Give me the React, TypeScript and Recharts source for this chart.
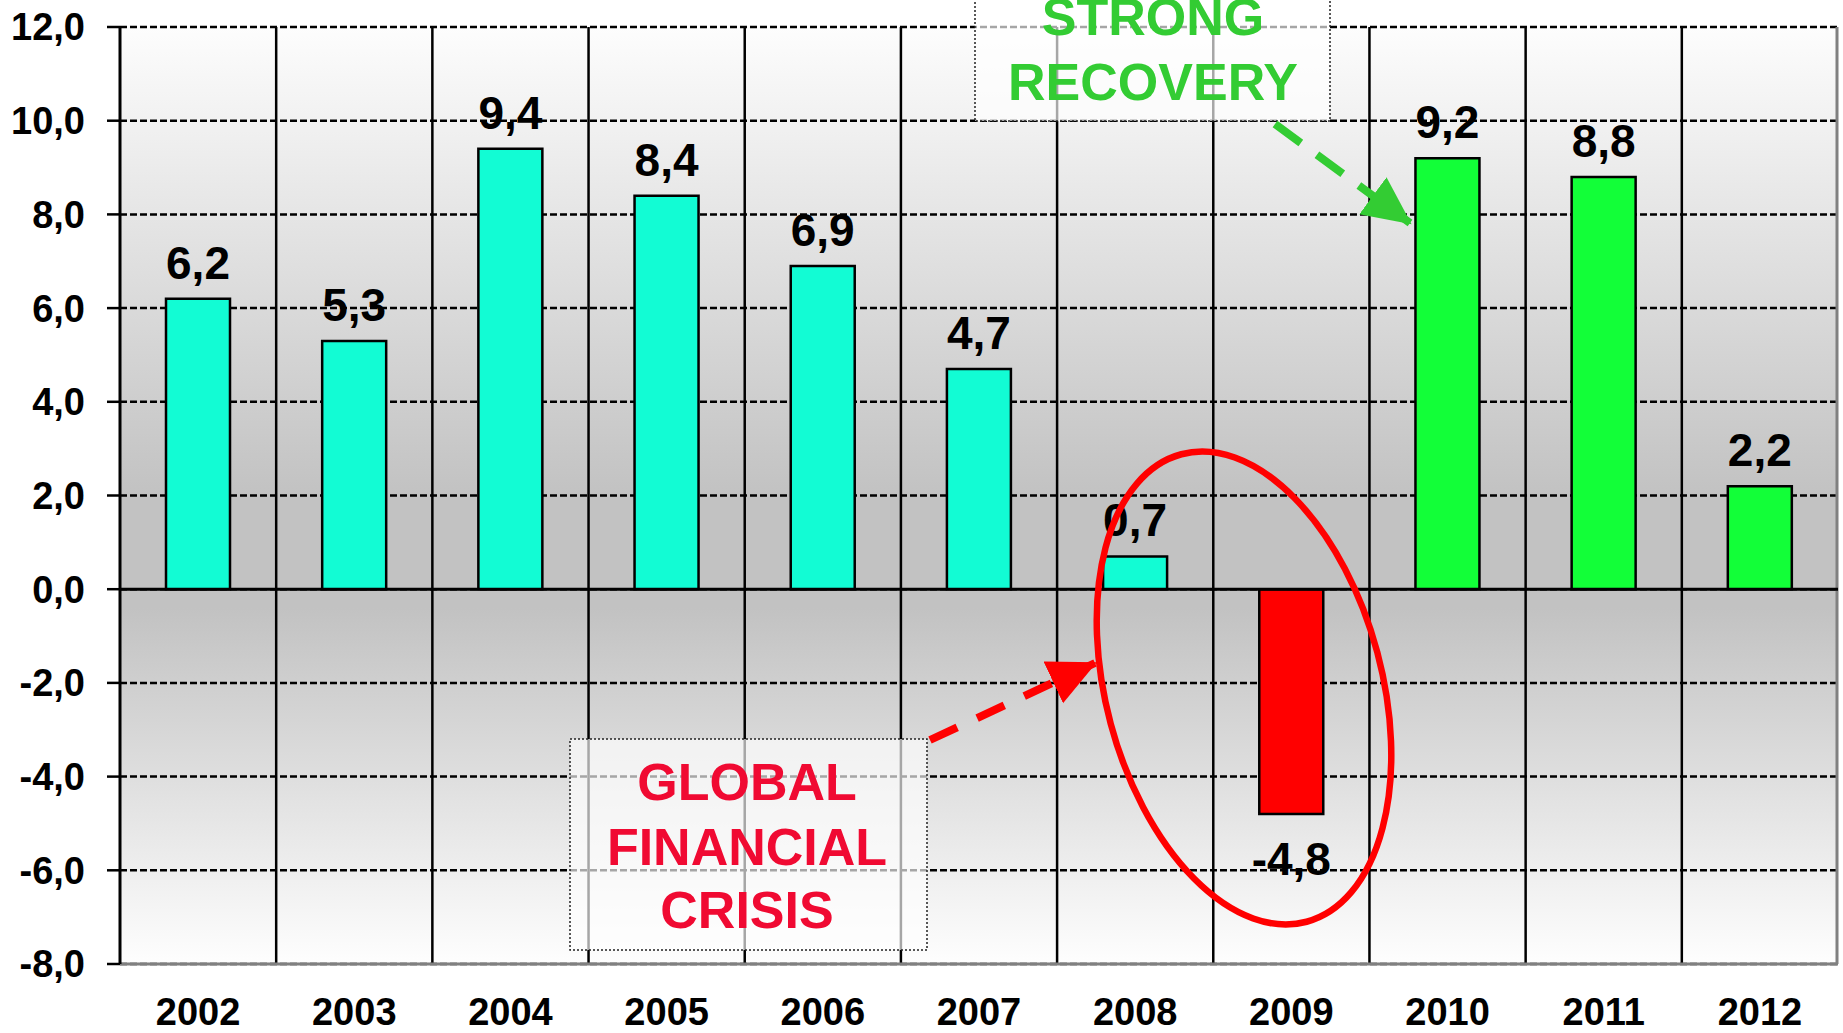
import {
  BarChart,
  Bar,
  XAxis,
  YAxis,
  CartesianGrid,
  ReferenceLine,
  Cell,
  LabelList,
} from 'recharts';

const years = ['2002', '2003', '2004', '2005', '2006', '2007', '2008', '2009', '2010', '2011', '2012'];
const growth = [6.2, 5.3, 9.4, 8.4, 6.9, 4.7, 0.7, -4.8, 9.2, 8.8, 2.2];
const yTicks = [-8, -6, -4, -2, 0, 2, 4, 6, 8, 10, 12];
const recoveryStart = '2010';

const data = years.map((year, i) => ({ year, value: growth[i] }));

const FONT = "'Liberation Sans', Arial, sans-serif";
const CYAN = '#12FCD4';
const GREEN = '#12FF38';
const RED = '#FF0000';
const CRISIS_TEXT = '#F00A32';
const RECOVERY_TEXT = '#33CC33';

const fmt = (v: number) => v.toFixed(1).replace('.', ',');

const barColor = (year: string, value: number) => {
  if (value < 0) return RED;
  if (year >= recoveryStart) return GREEN;
  return CYAN;
};

const ValueLabel = (props: any) => {
  const { x, y, width, height, value } = props;
  const top = Math.min(Number(y), Number(y) + Number(height));
  const bottom = Math.max(Number(y), Number(y) + Number(height));
  const cx = Number(x) + Number(width) / 2;
  const neg = Number(value) < 0;
  return (
    <text
      x={cx}
      y={neg ? bottom + 61 : top - 20}
      textAnchor="middle"
      fontFamily={FONT}
      fontWeight="bold"
      fontSize={46}
      fill="#000"
    >
      {fmt(Number(value))}
    </text>
  );
};

// grid lines sit between categories, not on the ticks
const boundaries = (props: any) => {
  const left = props?.offset?.left ?? 120;
  const w = props?.offset?.width ?? 1718;
  const step = w / years.length;
  return years.slice(1).map((_, i) => left + step * (i + 1));
};

const rightEdge = (props: any) => {
  const left = props?.offset?.left ?? 120;
  const w = props?.offset?.width ?? 1718;
  return [left + w - 1];
};

function Annotations() {
  const textStyle = { fontFamily: FONT, fontWeight: 'bold' as const, fontSize: 52 };
  return (
    <svg
      width={1843}
      height={1033}
      style={{ position: 'absolute', left: 0, top: 0, pointerEvents: 'none' }}
    >
      <defs>
        <marker id="arrGreen" markerUnits="userSpaceOnUse" markerWidth="52" markerHeight="52" refX="46" refY="23" orient="auto">
          <path d="M0,0 L48,23 L0,46 z" fill={RECOVERY_TEXT} />
        </marker>
        <marker id="arrRed" markerUnits="userSpaceOnUse" markerWidth="52" markerHeight="52" refX="46" refY="23" orient="auto">
          <path d="M0,0 L48,23 L0,46 z" fill={RED} />
        </marker>
      </defs>

      {/* strong recovery */}
      <rect x={975} y={-40} width={355} height={161} fill="#fff" fillOpacity={0.65} stroke="#222" strokeWidth={1.5} strokeDasharray="2 2" />
      <text x={1153} y={35} textAnchor="middle" fill={RECOVERY_TEXT} {...textStyle}>STRONG</text>
      <text x={1153} y={100} textAnchor="middle" fill={RECOVERY_TEXT} {...textStyle}>RECOVERY</text>
      <line x1={1275} y1={124} x2={1410} y2={223} stroke={RECOVERY_TEXT} strokeWidth={8} strokeDasharray="32 20" markerEnd="url(#arrGreen)" />

      {/* global financial crisis */}
      <rect x={570} y={739} width={357} height={211} fill="#fff" fillOpacity={0.65} stroke="#222" strokeWidth={1.5} strokeDasharray="2 2" />
      <text x={747} y={800} textAnchor="middle" fill={CRISIS_TEXT} {...textStyle}>GLOBAL</text>
      <text x={747} y={865} textAnchor="middle" fill={CRISIS_TEXT} {...textStyle}>FINANCIAL</text>
      <text x={747} y={928} textAnchor="middle" fill={CRISIS_TEXT} {...textStyle}>CRISIS</text>
      <line x1={930} y1={740} x2={1095} y2={663} stroke={RED} strokeWidth={8} strokeDasharray="30 22" markerEnd="url(#arrRed)" />

      <ellipse cx={1244} cy={688} rx={138} ry={242} transform="rotate(-15 1244 688)" fill="none" stroke={RED} strokeWidth={6.5} />
    </svg>
  );
}

export default function App() {
  return (
    <div style={{ position: 'absolute', left: 0, top: 0, width: 1843, height: 1033, background: '#fff', overflow: 'hidden' }}>
      <BarChart width={1843} height={1033} data={data} margin={{ top: 27, right: 5, left: 0, bottom: 0 }}>
        <defs>
          <linearGradient id="bgGrad" x1="0" y1="0" x2="0" y2="1">
            <stop offset="0" stopColor="#fdfdfd" />
            <stop offset="0.5" stopColor="#c2c2c2" />
            <stop offset="0.62" stopColor="#c2c2c2" />
            <stop offset="1" stopColor="#fefefe" />
          </linearGradient>
        </defs>
        <CartesianGrid
          vertical={false}
          stroke="#000"
          strokeWidth={2.5}
          strokeDasharray="7 3"
          fill="url(#bgGrad)"
          fillOpacity={1}
        />
        <CartesianGrid horizontal={false} stroke="#000" strokeWidth={2.5} verticalCoordinatesGenerator={boundaries} />
        <CartesianGrid horizontal={false} stroke="#808080" strokeWidth={3} verticalCoordinatesGenerator={rightEdge} />
        <XAxis
          dataKey="year"
          height={69}
          axisLine={{ stroke: '#808080', strokeWidth: 3 }}
          tickLine={false}
          tickSize={0}
          tickMargin={34}
          tick={{ fontSize: 38, fontWeight: 'bold', fill: '#000', fontFamily: FONT }}
        />
        <YAxis
          width={120}
          domain={[-8, 12]}
          ticks={yTicks}
          interval={0}
          tickFormatter={fmt}
          axisLine={{ stroke: '#000', strokeWidth: 3 }}
          tickLine={{ stroke: '#000', strokeWidth: 2.5 }}
          tickSize={13}
          tickMargin={22}
          tick={{ fontSize: 38, fontWeight: 'bold', fill: '#000', fontFamily: FONT }}
        />
        <ReferenceLine y={0} stroke="#000" strokeWidth={3} />
        <Bar dataKey="value" barSize={64} stroke="#000" strokeWidth={2.5} isAnimationActive={false}>
          {data.map(d => (
            <Cell key={d.year} fill={barColor(d.year, d.value)} />
          ))}
          <LabelList dataKey="value" content={ValueLabel} />
        </Bar>
      </BarChart>
      <Annotations />
    </div>
  );
}
